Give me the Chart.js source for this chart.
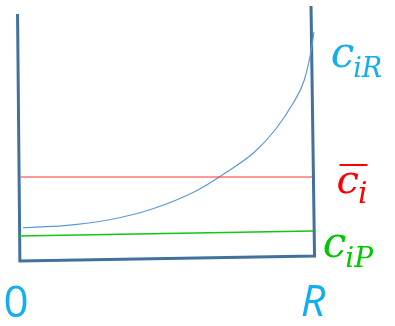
<!DOCTYPE html>
<html><head><meta charset="utf-8">
<script src="https://cdn.jsdelivr.net/npm/chart.js@4/dist/chart.umd.min.js"></script>
<style>html,body{margin:0;padding:0;background:#fff;}canvas{display:block;}</style>
</head><body>
<canvas id="c" width="395" height="326"></canvas>
<script>
// Radial position r/R and concentration values
const frameR = [-0.010, -0.002, 1.005, 0.993];
const frameC = [1.23, -0.005, 0.02, 1.27];
const curveR = [0.009, 0.15, 0.30, 0.45, 0.60, 0.70, 0.80, 0.87, 0.93, 0.97, 0.995, 1.003];
const curveC = [0.162, 0.172, 0.200, 0.255, 0.345, 0.435, 0.540, 0.650, 0.780, 0.900, 1.060, 1.140];
const meanR = [0.0, 0.996];
const meanC = [0.415, 0.415];
const permR = [-0.008, 1.0];
const permC = [0.12, 0.145];
const axisLabels = ['0', 'R'];
const axisTicks = [-0.058, 0.958];

const pts = (xs, ys) => xs.map((x, i) => ({x, y: ys[i]}));
const BLUE_TXT = '#12AEEF';
const SERIF = '"DejaVu Serif"';

function drawSub(ctx, x, y, main, sub, mainPx, subPx, subDy, color, over) {
  ctx.fillStyle = color;
  ctx.font = 'italic ' + mainPx + 'px ' + SERIF;
  ctx.textBaseline = 'alphabetic';
  ctx.fillText(main, x, y);
  const w = ctx.measureText(main).width;
  if (over) {
    ctx.fillRect(x + over[0], y + over[1], over[2], 2);
  }
  ctx.font = 'italic ' + subPx + 'px ' + SERIF;
  ctx.fillText(sub, x + w - 1, y + subDy);
}

const labelPlugin = {
  id: 'labels',
  afterDraw(chart) {
    const ctx = chart.ctx;
    const xs = chart.scales.x, ys = chart.scales.y;
    ctx.save();
    drawSub(ctx, xs.getPixelForValue(1.06), ys.getPixelForValue(0.965), 'c', 'iR', 42, 27, 10, BLUE_TXT);
    drawSub(ctx, xs.getPixelForValue(1.08), ys.getPixelForValue(0.335), 'c', 'i', 40, 30, 10, '#FF0000', [3, -29, 28]);
    drawSub(ctx, xs.getPixelForValue(1.033), ys.getPixelForValue(0.015), 'c', 'iP', 42, 28, 10, '#00C800');
    ctx.fillStyle = BLUE_TXT;
    ctx.font = '44px "Open Sans"';
    ctx.fillText(axisLabels[0], xs.getPixelForValue(axisTicks[0]), 317);
    ctx.font = 'italic 43px "Open Sans"';
    ctx.fillText(axisLabels[1], xs.getPixelForValue(axisTicks[1]), 316);
    ctx.restore();
  }
};

new Chart(document.getElementById('c'), {
  type: 'scatter',
  data: {
    datasets: [
      {data: pts(meanR, meanC), showLine: true, borderColor: '#FF3030', borderWidth: 1, pointRadius: 0},
      {data: pts(permR, permC), showLine: true, borderColor: '#10C810', borderWidth: 1.5, pointRadius: 0},
      {data: pts(curveR, curveC), showLine: true, borderColor: '#5B9BD5', borderWidth: 1.2, pointRadius: 0, cubicInterpolationMode: 'monotone'},
      {data: pts(frameR, frameC), showLine: true, borderColor: '#41719C', borderWidth: 3, pointRadius: 0, borderJoinStyle: 'miter'}
    ]
  },
  options: {
    responsive: false,
    animation: false,
    events: [],
    layout: {padding: 0},
    plugins: {legend: {display: false}, tooltip: {enabled: false}},
    scales: {
      x: {type: 'linear', min: -0.07, max: 1.28, display: false},
      y: {type: 'linear', min: -0.33, max: 1.3, display: false}
    }
  },
  plugins: [labelPlugin]
});
</script>
</body></html>
